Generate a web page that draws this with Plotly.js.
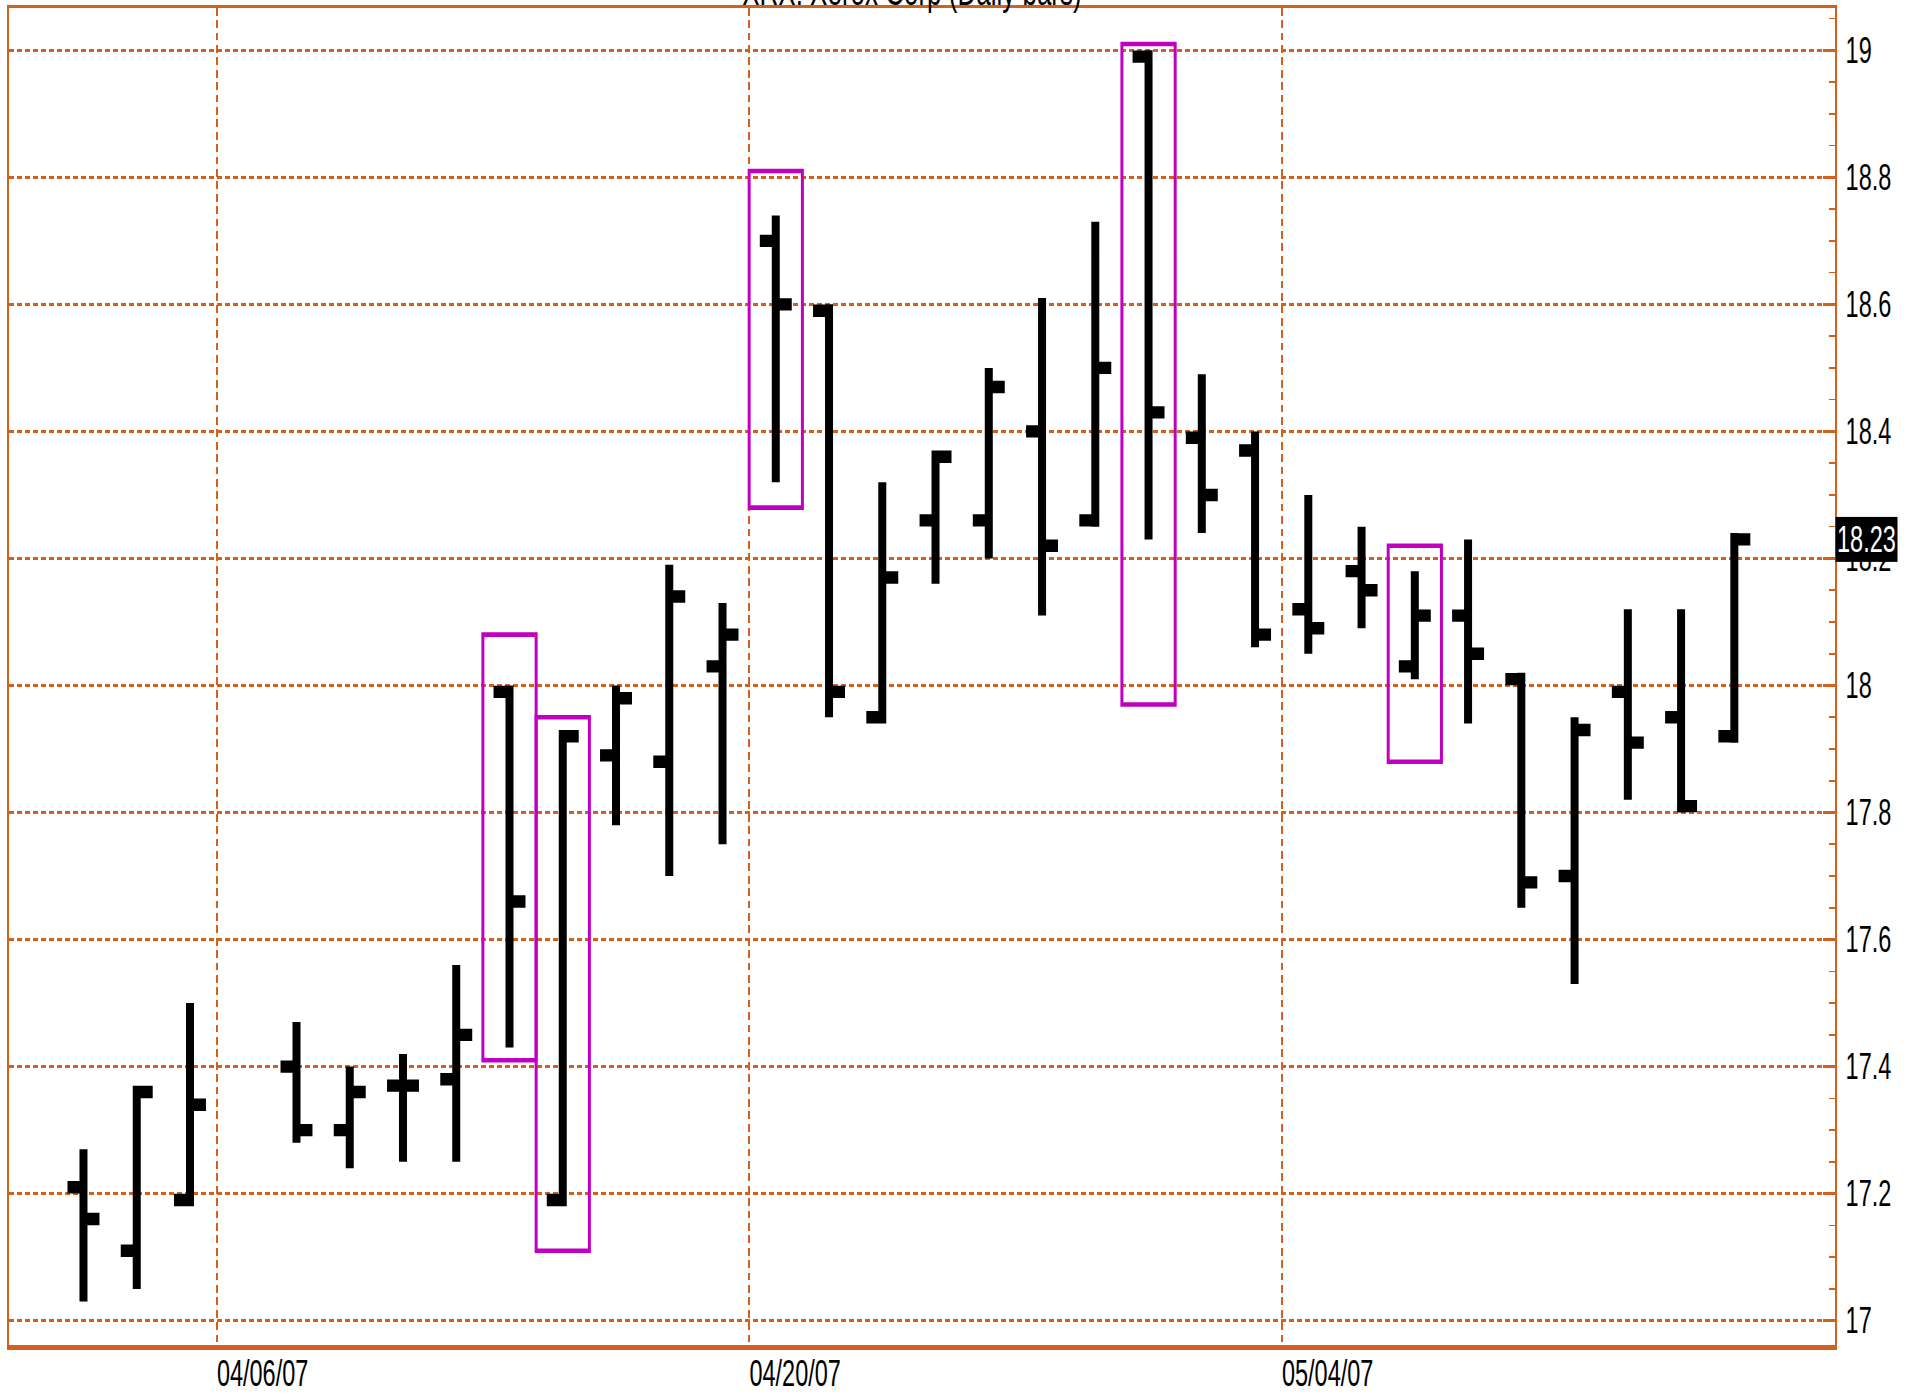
<!DOCTYPE html>
<html>
<head>
<meta charset="utf-8">
<script src="https://cdn.plot.ly/plotly-3.0.1.min.js"></script>
<style>
  html, body { margin: 0; padding: 0; background: #ffffff; }
  #wrap { width: 1919px; height: 1395px; overflow: hidden; position: relative; }
  #chart { width: 1919px; height: 900px; transform: scaleY(1.55); transform-origin: 0 0; }
</style>
</head>
<body>
<div id="wrap"><div id="chart"></div></div>
<script>
// ---- data (XRX daily bars) ----
const dates = ['2007-04-03','2007-04-04','2007-04-05','2007-04-09','2007-04-10','2007-04-11','2007-04-12','2007-04-13',
  '2007-04-16','2007-04-17','2007-04-18','2007-04-19','2007-04-20','2007-04-23','2007-04-24','2007-04-25','2007-04-26',
  '2007-04-27','2007-04-30','2007-05-01','2007-05-02','2007-05-03','2007-05-04','2007-05-07','2007-05-08','2007-05-09',
  '2007-05-10','2007-05-11','2007-05-14','2007-05-15','2007-05-16'];
const openP  = [17.21,17.11,17.19,17.40,17.30,17.37,17.38,17.99,17.19,17.89,17.88,18.03,18.70,18.59,17.95,18.26,18.26,
  18.40,18.26,18.99,18.39,18.37,18.12,18.18,18.03,18.11,18.01,17.70,17.99,17.95,17.92];
const highP  = [17.27,17.37,17.50,17.47,17.40,17.42,17.56,18.00,17.93,18.00,18.19,18.13,18.74,18.60,18.32,18.37,18.50,
  18.61,18.73,19.00,18.49,18.40,18.30,18.25,18.18,18.23,18.02,17.95,18.12,18.12,18.24];
const lowP   = [17.03,17.05,17.18,17.28,17.24,17.25,17.25,17.43,17.18,17.78,17.70,17.75,18.32,17.95,17.94,18.16,18.20,
  18.11,18.25,18.23,18.24,18.06,18.05,18.09,18.01,17.94,17.65,17.53,17.82,17.80,17.91];
const closeP = [17.16,17.36,17.34,17.30,17.36,17.37,17.45,17.66,17.92,17.98,18.14,18.08,18.60,17.99,18.17,18.36,18.47,
  18.22,18.50,18.43,18.30,18.08,18.09,18.15,18.11,18.05,17.69,17.93,17.91,17.81,18.23];

const tickDates  = ['2007-04-06','2007-04-20','2007-05-04'];
const tickLabels = ['04/06/07','04/20/07','05/04/07'];

// highlighted bars (magenta boxes): day and price extent of each box
const boxDates = ['2007-04-13','2007-04-16','2007-04-20','2007-05-01','2007-05-08'];
const boxLow   = [17.41,17.11,18.28,17.97,17.88];
const boxHigh  = [18.08,17.95,18.81,19.01,18.22];

const titleText = 'XRX: Xerox Corp (Daily bars)';

// ---- styling ----
const ORANGE = '#D2601E';
const MAGENTA = '#C000C0';
const tickFont = { family: 'Liberation Sans, Arial, sans-serif', size: 23.5, color: '#000000' };

function nextDay(d) {
  const t = new Date(d + 'T00:00:00Z');
  t.setUTCDate(t.getUTCDate() + 1);
  return t.toISOString().slice(0, 10);
}

const trace = {
  type: 'ohlc',
  x: dates.map(d => d + ' 12:00'),
  open: openP, high: highP, low: lowP, close: closeP,
  increasing: { line: { color: '#000000', width: 8 } },
  decreasing: { line: { color: '#000000', width: 8 } },
  tickwidth: 0.3,
  hoverinfo: 'skip',
  showlegend: false
};

const shapes = boxDates.map((d, i) => ({
  type: 'rect', xref: 'x', yref: 'y',
  x0: d, x1: nextDay(d), y0: boxLow[i], y1: boxHigh[i],
  line: { color: MAGENTA, width: 3 },
  fillcolor: 'rgba(0,0,0,0)'
}));
// heavier bottom frame line
shapes.push({
  type: 'line', xref: 'paper', yref: 'paper', x0: 0, x1: 1, y0: 0, y1: 0,
  line: { color: ORANGE, width: 2.6 }
});

const lastClose = closeP[closeP.length - 1];

const layout = {
  width: 1919, height: 900,
  margin: { l: 9, r: 84, t: 4.8, b: 31, pad: 0 },
  paper_bgcolor: '#ffffff', plot_bgcolor: '#ffffff',
  showlegend: false,
  title: {
    text: titleText,
    font: { family: 'Liberation Sans, Arial, sans-serif', size: 26, color: '#000000' },
    xref: 'paper', x: 0.4945, xanchor: 'center',
    yref: 'container', y: 1 - 2.9 / 900, yanchor: 'bottom',
    automargin: false
  },
  xaxis: {
    type: 'date',
    range: ['2007-04-02 02:26', '2007-05-18 09:22'],
    rangebreaks: [{ bounds: ['sat', 'mon'] }],
    rangeslider: { visible: false },
    tickmode: 'array', tickvals: tickDates, ticktext: tickLabels,
    ticks: '', tickfont: tickFont, ticklabelshift: 46, ticklabelstandoff: -5,
    showgrid: true, gridcolor: ORANGE, gridwidth: 1.5, griddash: '5px,3px',
    showline: true, linecolor: ORANGE, linewidth: 1.6, mirror: true,
    zeroline: false, fixedrange: true
  },
  yaxis: {
    side: 'right',
    range: [16.9586, 19.067],
    tick0: 17, dtick: 0.2,
    ticks: 'inside', ticklen: 12, tickwidth: 1.6, tickcolor: ORANGE,
    minor: { dtick: 0.05, tick0: 17, ticks: 'inside', ticklen: 6, tickwidth: 1.4, tickcolor: ORANGE, showgrid: false },
    tickfont: tickFont, ticklabelstandoff: 4,
    showgrid: true, gridcolor: ORANGE, gridwidth: 1.5, griddash: '5px,3px',
    showline: true, linecolor: ORANGE, linewidth: 1.8, mirror: true,
    zeroline: false, fixedrange: true
  },
  shapes: shapes,
  annotations: [{
    xref: 'paper', x: 1, xanchor: 'left',
    yref: 'y', y: lastClose, yanchor: 'middle',
    text: lastClose.toFixed(2),
    showarrow: false,
    bgcolor: '#000000',
    font: { family: 'Liberation Sans, Arial, sans-serif', size: 23.5, color: '#ffffff' },
    borderpad: 1
  }]
};

Plotly.newPlot('chart', [trace], layout, { displayModeBar: false, responsive: false });
</script>
</body>
</html>
